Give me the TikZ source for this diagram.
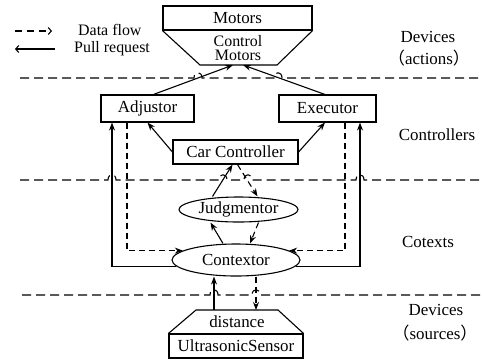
\documentclass[tikz,border=0pt]{standalone}
\usepackage{fontspec}
\setmainfont{Liberation Serif}
\newfontfamily\cjk{Noto Sans CJK SC}
\usetikzlibrary{arrows.meta,shapes.geometric}
\newcommand\hopat[2]{-- (#1-4,#2) .. controls (#1-4,#2-7) and (#1+4,#2-7) .. (#1+4,#2)}
\begin{document}
\begin{tikzpicture}[x=1bp,y=-1bp,
  every node/.style={font=\fontsize{17}{15}\selectfont},
  box/.style={draw,line width=1.1bp,inner sep=0pt},
  oval/.style={draw,ellipse,line width=1.1bp,inner sep=0pt},
  conn/.style={line width=1.1bp,-{Stealth[length=8bp,width=6bp]}},
  flow/.style={conn,dash pattern=on 6bp off 4bp},
  sep/.style={line width=1.1bp,dash pattern=on 9bp off 5bp},
  legtip/.style={line width=1.1bp,-{Straight Barb[length=3bp,width=7bp]}},
  lbl/.style={align=center,font=\fontsize{16}{14.5}\selectfont}]
\useasboundingbox (0,0) rectangle (482,363);

% separators
\draw[sep] (20,78) \hopat{198}{78} \hopat{278}{78} -- (482,78);
\draw[sep] (20,180) \hopat{112}{180} \hopat{223}{180} \hopat{248}{180} \hopat{360}{180} -- (482,180);
\draw[sep] (22,295) \hopat{214}{295} \hopat{256}{295} -- (482,295);

% legend
\coordinate (lgA) at (15,31); \coordinate (lgB) at (52,31);
\coordinate (lgC) at (55,49); \coordinate (lgD) at (15,49);
\draw[legtip,dash pattern=on 7bp off 5bp] (lgA) -- (lgB);
\draw[legtip] (lgC) -- (lgD);
\node[anchor=west,inner sep=0pt,font=\fontsize{16}{15}\selectfont] (lg1) at (78,30) {Data flow};
\node[anchor=west,inner sep=0pt,font=\fontsize{16}{15}\selectfont] (lg2) at (74,49) {Pull request};

% top device
\node[box,minimum width=149bp,minimum height=24bp] (motors) at (237.5,18) {Motors};
\draw[line width=1.1bp] (motors.south west) -- (200,65) -- (277,65) -- (motors.south east);
\node[lbl] (cm) at (238,48) {Control\\Motors};
\coordinate (cmA) at (233,65);
\coordinate (cmB) at (243,65);

% controllers
\node[box,minimum width=93bp,minimum height=27bp] (adj) at (147.5,108.5) {Adjustor};
\node[box,minimum width=97bp,minimum height=27bp] (exe) at (327.5,108.5) {Executor};
\node[box,minimum width=125bp,minimum height=24bp] (cc) at (235.5,152) {Car Controller};

% contexts
\node[oval,minimum width=119bp,minimum height=25bp] (jdg) at (238.5,209.5) {Judgmentor};
\node[oval,minimum width=128bp,minimum height=32bp] (ctx) at (236,260) {Contextor};

% bottom device
\node[box,minimum width=134bp,minimum height=24bp] (us) at (236,346) {UltrasonicSensor};
\draw[line width=1.1bp] (us.north west) -- (196,310) -- (278,310) -- (us.north east);
\node (dist) at (237,322) {distance};
\coordinate (snsA) at (214,310);
\coordinate (snsB) at (256,310);

% layer labels
\node (l1) at (428,37) {Devices};
\node (l2) at (429,58) {{\cjk （}actions{\cjk ）}};
\node (l3) at (437,135) {Controllers};
\node (l4) at (428,242) {Cotexts};
\node (l5) at (436,310) {Devices};
\node (l6) at (435,333) {{\cjk （}sources{\cjk ）}};

% connectors
\draw[conn] ([xshift=6bp]adj.north) -- (cmA);
\draw[conn] ([xshift=-2.5bp]exe.north) -- (cmB);
\draw[conn] (cc.west) -- (adj.south);
\draw[conn] (cc.east) -- ([xshift=-2.5bp]exe.south);
\draw[conn] (ctx.186) -| ([xshift=-35.5bp]adj.south);
\draw[flow] ([xshift=-20.5bp]adj.south) |- (ctx.170);
\draw[conn] (ctx.354) -| ([xshift=32.5bp]exe.south);
\draw[flow] ([xshift=17.5bp]exe.south) |- (ctx.10);
\draw[conn] ([xshift=-26bp]jdg.north) -- ([xshift=-3bp]cc.south);
\draw[flow] ([xshift=2bp]cc.south) -- ([xshift=19bp]jdg.north);
\draw[conn] ([xshift=-13bp]ctx.north) -- ([xshift=-28bp]jdg.south);
\draw[flow] ([xshift=20bp]jdg.south) -- ([xshift=14bp]ctx.north);
\draw[conn] (snsA) -- (ctx.south -| snsA);
\draw[flow] (ctx.south -| snsB) -- (snsB);
\end{tikzpicture}
\end{document}
